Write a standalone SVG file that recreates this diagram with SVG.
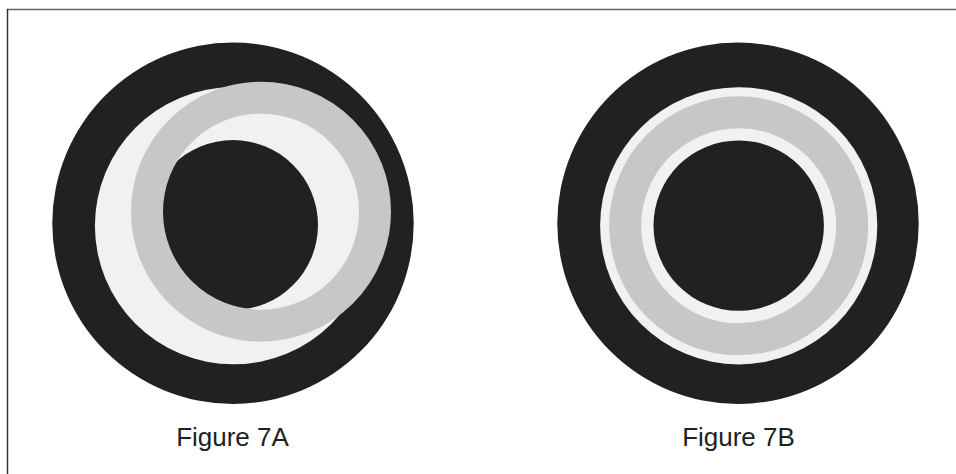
<svg xmlns="http://www.w3.org/2000/svg" width="956" height="474" viewBox="0 0 956 474">
<style>
.blk{fill:#222120}
.lt{fill:#f1f1f1}
.ring{fill:none;stroke:#c6c7c9;stroke-width:32}
.lbl{font-family:"Liberation Sans",Arial,sans-serif;font-size:26px;fill:#231f20;text-anchor:middle}
</style>
<rect width="956" height="474" fill="#ffffff"/>
<g id="frame">
<line x1="7" y1="9.5" x2="956" y2="9.5" stroke="#666666" stroke-width="1.5"/>
<line x1="7.5" y1="9" x2="7.5" y2="474" stroke="#333333" stroke-width="1.5"/>
</g>
<g id="fig7A">
<circle class="blk" cx="233" cy="223.3" r="180.7"/>
<circle class="lt" cx="233.5" cy="225.7" r="138.6"/>
<circle class="blk" cx="233" cy="225" r="85"/>
<circle class="ring" cx="261" cy="211.7" r="114"/>
<text class="lbl" x="232.5" y="446">Figure 7A</text>
</g>
<g id="fig7B">
<circle class="blk" cx="738" cy="223.3" r="180.7"/>
<circle class="lt" cx="738.7" cy="225.8" r="138.6"/>
<circle class="ring" cx="738.7" cy="225.8" r="113.5"/>
<circle class="blk" cx="738.7" cy="225.6" r="85.2"/>
<text class="lbl" x="738.5" y="446">Figure 7B</text>
</g>
</svg>
